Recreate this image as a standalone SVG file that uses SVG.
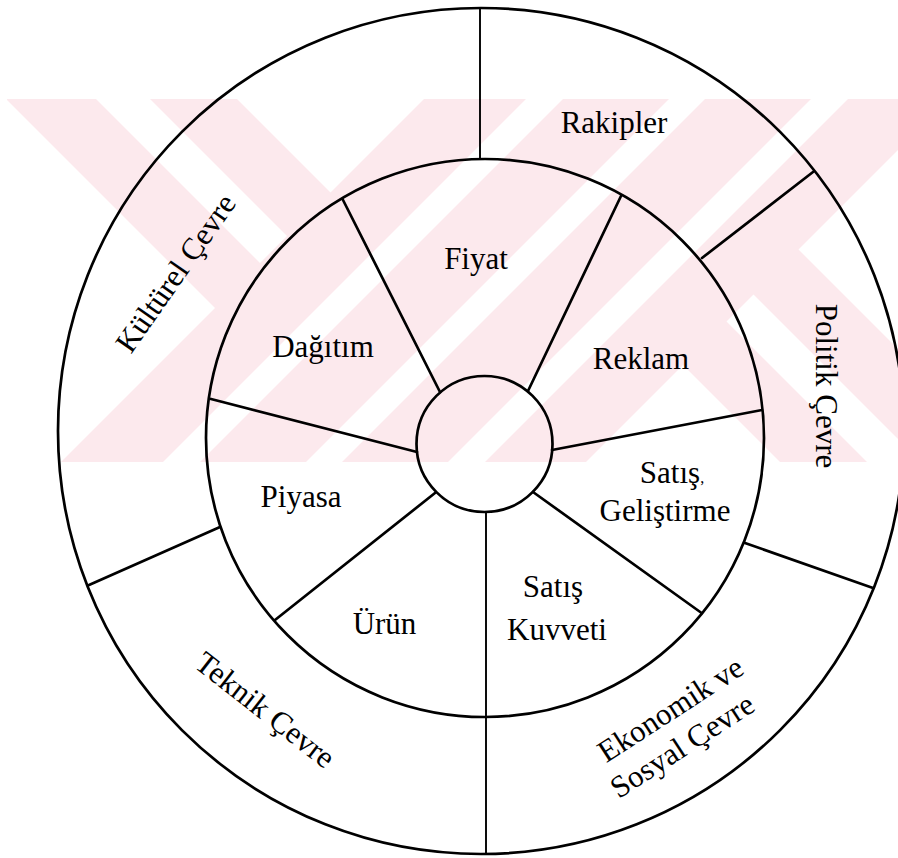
<svg xmlns="http://www.w3.org/2000/svg" width="898" height="858" viewBox="0 0 898 858">
<style>
.ln{stroke:#000;stroke-width:2.7;fill:none;stroke-linecap:round}
.thin{stroke:#000;stroke-width:1.9;fill:none}
.t{font-family:"Liberation Serif","Times New Roman",serif;font-size:31px;fill:#000;text-anchor:middle}
.wm{fill:#fff}
</style>
<defs>
<clipPath id="band"><rect x="7" y="99" width="891" height="363"/></clipPath>
</defs>
<rect x="0" y="0" width="898" height="858" fill="#fff"/>
<g id="watermark" clip-path="url(#band)">
<rect x="7" y="99" width="891" height="363" fill="#fce9ed"/>
<polygon class="wm" points="0,99 6,99 215,308 61,462 0,462"/>
<polygon class="wm" points="96,99 150,99 287,236 260,263"/>
<polygon class="wm" points="237,99 424,99 330.5,192.5"/>
<polygon class="wm" points="526,99 563,99 200,462 163,462"/>
<polygon class="wm" points="669,99 705,99 342,462 306,462"/>
<polygon class="wm" points="811,99 848,99 485,462 448,462"/>
<polygon class="wm" points="798.5,249.5 949,99 1100,99 1100,462 1011,462"/>
<polygon class="wm" points="726.5,321.5 753.5,294.5 921,462 867,462"/>
<polygon class="wm" points="683,365 780,462 586,462"/>
</g>
<g id="rings">
<circle id="outer-ring" class="ln" cx="481" cy="431" r="423"/>
<circle id="inner-ring" class="ln" cx="485" cy="438" r="279"/>
<circle id="hub" class="ln" cx="484.5" cy="444" r="68"/>
</g>
<g id="connectors">
<line class="thin" x1="480" y1="8" x2="480" y2="159"/>
<line class="ln" x1="813" y1="172" x2="702" y2="258"/>
<line class="ln" x1="745" y1="543" x2="873" y2="588"/>
<line class="ln" x1="220" y1="527" x2="89" y2="585"/>
<line class="thin" x1="486" y1="512" x2="486" y2="855"/>
<line class="ln" x1="342.5" y1="199" x2="440" y2="392"/>
<line class="ln" x1="621" y1="196" x2="528" y2="391"/>
<line class="ln" x1="762" y1="410" x2="552" y2="450"/>
<line class="ln" x1="533" y1="492" x2="701.6" y2="613"/>
<line class="ln" x1="435" y1="493" x2="275" y2="620"/>
<line class="ln" x1="211" y1="399" x2="417" y2="452"/>
</g>
<g id="node-rakipler"><text class="t" x="614" y="133">Rakipler</text></g>
<g id="node-politik"><text class="t" transform="translate(816,386) rotate(90)">Politik Çevre</text></g>
<g id="node-ekonomik"><g transform="translate(676,718) rotate(-33)"><text class="t" x="0" y="0">Ekonomik ve</text><text class="t" x="-10" y="37">Sosyal Çevre</text></g></g>
<g id="node-teknik"><text class="t" transform="translate(259,718) rotate(38)">Teknik Çevre</text></g>
<g id="node-kulturel"><text class="t" transform="translate(184,279) rotate(-55)">Kültürel Çevre</text></g>
<g id="node-fiyat"><text class="t" x="476" y="269">Fiyat</text></g>
<g id="node-dagitim"><text class="t" x="323" y="357">Dağıtım</text></g>
<g id="node-reklam"><text class="t" x="641" y="369">Reklam</text></g>
<g id="node-piyasa"><text class="t" x="301" y="507">Piyasa</text></g>
<g id="node-satis-gelistirme"><text class="t" x="672" y="483">Satış<tspan font-size="16">,</tspan></text><text class="t" x="665" y="521">Geliştirme</text></g>
<g id="node-satis-kuvveti"><text class="t" x="553" y="597">Satış</text><text class="t" x="557" y="640">Kuvveti</text></g>
<g id="node-urun"><text class="t" x="384.5" y="634">Ürün</text></g>
</svg>
